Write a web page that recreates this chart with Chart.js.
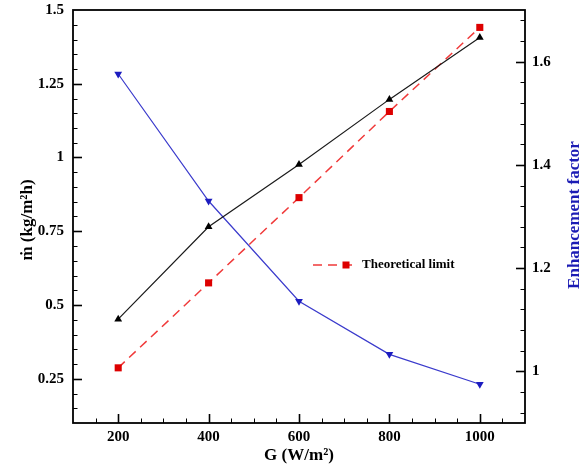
<!DOCTYPE html>
<html><head><meta charset="utf-8">
<script src="https://cdn.jsdelivr.net/npm/chart.js@4.4.0/dist/chart.umd.min.js"></script>
<style>html,body{margin:0;padding:0;background:#fff}canvas{display:block}</style>
</head><body><canvas id="c" width="588" height="468"></canvas>
<script>
// ---- data ----
const irradiance = [200, 400, 600, 800, 1000];
const massFlux = [0.452, 0.765, 0.976, 1.197, 1.407];
const theoreticalLimit = [0.287, 0.575, 0.864, 1.156, 1.441];
const enhancementFactor = [1.576, 1.330, 1.136, 1.033, 0.975];

const xTicks = [200, 400, 600, 800, 1000];
const xTickLabels = ['200', '400', '600', '800', '1000'];
const leftTicks = [0.25, 0.5, 0.75, 1, 1.25, 1.5];
const leftTickLabels = ['0.25', '0.5', '0.75', '1', '1.25', '1.5'];
const rightTicks = [1, 1.2, 1.4, 1.6];
const rightTickLabels = ['1', '1.2', '1.4', '1.6'];

const xTitle = 'G (W/m²)';
const leftTitle = 'ṁ (kg/m²h)';
const rightTitle = 'Enhancement factor';
const legendLabel = 'Theoretical limit';

const SERIF = "'Liberation Serif', 'Times New Roman', serif";
const tickFont = { family: SERIF, size: 15, weight: 'bold' };

function pts(xs, ys) { return xs.map((x, i) => ({ x: x, y: ys[i] })); }
function setTicks(vals) { return s => { s.ticks = vals.map(v => ({ value: v })); }; }
function labelFrom(vals, labels) { return v => { const i = vals.findIndex(t => Math.abs(t - v) < 1e-9); return i >= 0 ? labels[i] : ''; }; }
function fitV(w) { return s => { s.width = w; s.paddingTop = 0; s.paddingBottom = 0; }; }
function fitH(h) { return s => { s.height = h; s.paddingLeft = 0; s.paddingRight = 0; }; }

const framePlugin = {
  id: 'frame',
  afterDatasetsDraw(chart) {
    const { ctx, chartArea: a, scales } = chart;
    ctx.save();
    ctx.strokeStyle = '#000';
    const drawTicks = (scale, min, max, step, majorEvery, edge) => {
      const n = Math.round((max - min) / step);
      for (let k = 0; k <= n; k++) {
        const v = min + k * step;
        const major = Math.abs(Math.round(v / majorEvery) * majorEvery - v) < 1e-6;
        const len = major ? 9 : 4.5;
        ctx.lineWidth = major ? 1.6 : 1;
        const p = Math.round(scale.getPixelForValue(v)) + 0.5;
        ctx.beginPath();
        if (edge === 'bottom') { ctx.moveTo(p, a.bottom); ctx.lineTo(p, a.bottom - len); }
        if (edge === 'left') { ctx.moveTo(a.left, p); ctx.lineTo(a.left + len, p); }
        if (edge === 'right') { ctx.moveTo(a.right, p); ctx.lineTo(a.right - len, p); }
        ctx.stroke();
      }
    };
    drawTicks(scales.x, 150, 1050, 50, 200, 'bottom');
    drawTicks(scales.y, 0.15, 1.45, 0.05, 0.25, 'left');
    drawTicks(scales.y2, 0.92, 1.68, 0.04, 0.2, 'right');
    ctx.lineWidth = 1.8;
    ctx.strokeRect(a.left, a.top, a.right - a.left, a.bottom - a.top);

    ctx.fillStyle = '#000';
    ctx.font = "bold 17px " + SERIF;
    ctx.textAlign = 'center';
    ctx.textBaseline = 'middle';
    ctx.fillText(xTitle, (a.left + a.right) / 2, 456);
    ctx.save();
    ctx.translate(28, 220);
    ctx.rotate(-Math.PI / 2);
    ctx.fillText(leftTitle, 0, 0);
    ctx.restore();
    ctx.save();
    ctx.fillStyle = '#1c1cb4';
    ctx.translate(575, 215);
    ctx.rotate(-Math.PI / 2);
    ctx.fillText(rightTitle, 0, 0);
    ctx.restore();

    const ds = chart.data.datasets[1];
    const ly = 265;
    ctx.strokeStyle = ds.borderColor;
    ctx.lineWidth = ds.borderWidth;
    ctx.setLineDash(ds.borderDash);
    ctx.beginPath(); ctx.moveTo(313, ly); ctx.lineTo(352, ly); ctx.stroke();
    ctx.setLineDash([]);
    ctx.fillStyle = ds.pointBackgroundColor;
    ctx.fillRect(342.5, ly - 3.5, 7, 7);
    ctx.fillStyle = '#000';
    ctx.font = "bold 13px " + SERIF;
    ctx.textAlign = 'left';
    ctx.fillText(legendLabel, 362, ly);
    ctx.restore();
  }
};

new Chart(document.getElementById('c'), {
  type: 'line',
  data: {
    datasets: [
      {
        label: 'ṁ', data: pts(irradiance, massFlux), yAxisID: 'y',
        borderColor: '#1a1a1a', borderWidth: 1.2,
        pointStyle: 'triangle', pointRadius: 4.5, pointBorderWidth: 0,
        pointBackgroundColor: '#000', tension: 0
      },
      {
        label: legendLabel, data: pts(irradiance, theoreticalLimit), yAxisID: 'y',
        borderColor: '#f03a3a', borderWidth: 1.5, borderDash: [9, 6],
        pointStyle: 'rect', pointRadius: 5, pointBorderWidth: 0,
        pointBackgroundColor: '#dd0000', tension: 0
      },
      {
        label: rightTitle, data: pts(irradiance, enhancementFactor), yAxisID: 'y2',
        borderColor: '#3a3acc', borderWidth: 1.2,
        pointStyle: 'triangle', rotation: 180, pointRadius: 4.5, pointBorderWidth: 0,
        pointBackgroundColor: '#1c1cc0', tension: 0
      }
    ]
  },
  options: {
    responsive: false, animation: false,
    layout: { padding: { top: 10, left: 0, right: 0, bottom: 0 } },
    plugins: { legend: { display: false }, tooltip: { enabled: false } },
    scales: {
      x: {
        type: 'linear', position: 'bottom', min: 100, max: 1100,
        afterBuildTicks: setTicks(xTicks),
        afterFit: fitH(45),
        grid: { display: false, drawTicks: false }, border: { display: false },
        ticks: { font: tickFont, color: '#000', padding: 5, autoSkip: false, maxRotation: 0,
                 callback: labelFrom(xTicks, xTickLabels) }
      },
      y: {
        type: 'linear', position: 'left', min: 0.1, max: 1.5,
        afterBuildTicks: setTicks(leftTicks),
        afterFit: fitV(73),
        grid: { display: false, drawTicks: false }, border: { display: false },
        ticks: { font: tickFont, color: '#000', padding: 9, autoSkip: false,
                 callback: labelFrom(leftTicks, leftTickLabels) }
      },
      y2: {
        type: 'linear', position: 'right', min: 0.9, max: 1.7,
        afterBuildTicks: setTicks(rightTicks),
        afterFit: fitV(63),
        grid: { display: false, drawTicks: false }, border: { display: false },
        ticks: { font: tickFont, color: '#000', padding: 7, autoSkip: false,
                 callback: labelFrom(rightTicks, rightTickLabels) }
      }
    }
  },
  plugins: [framePlugin]
});
</script>
</body></html>
